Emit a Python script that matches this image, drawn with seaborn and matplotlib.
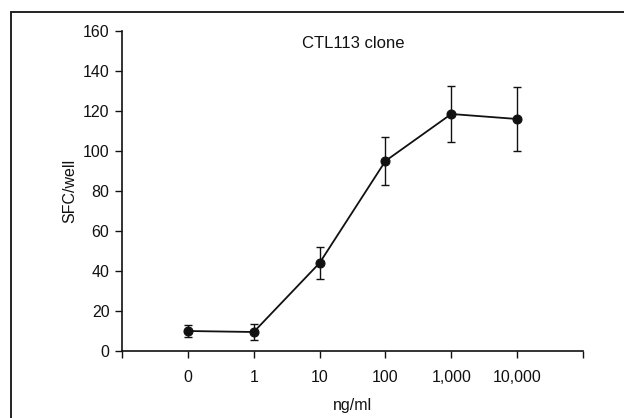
import matplotlib
matplotlib.use("Agg")
import matplotlib.pyplot as plt
from matplotlib.patches import Rectangle
import numpy as np
import pandas as pd
import seaborn as sns

# Dose-response of the CTL113 clone
doses = ["0", "1", "10", "100", "1,000", "10,000"]
sfc_mean = [10, 9.5, 44, 95, 118.5, 116]
sfc_err = [3, 4, 8, 12, 14, 16]
y_ticks = [0, 20, 40, 60, 80, 100, 120, 140, 160]

sns.set_theme(style="ticks")
plt.rcParams["font.family"] = ["Liberation Sans", "DejaVu Sans"]

df = pd.DataFrame({"pos": np.arange(len(doses)), "sfc": sfc_mean, "err": sfc_err})

fig = plt.figure(figsize=(6.24, 4.18), dpi=100)
ax = fig.add_axes([122 / 624, 1 - 351 / 418, (583 - 122) / 624, (351 - 31) / 418])

# outer frame around the panel
fig.patches.append(Rectangle((11 / 624, -0.2), 1.2, 1 - 12 / 418 + 0.2,
                             transform=fig.transFigure, fill=False,
                             edgecolor="#222222", linewidth=1.4, zorder=0))

ax.errorbar(df["pos"], df["sfc"], yerr=df["err"], fmt="none",
            ecolor="#111111", elinewidth=1.0, capsize=3, capthick=1.0, zorder=2)
sns.lineplot(data=df, x="pos", y="sfc", ax=ax, color="#111111", linewidth=1.3,
             marker="o", markersize=6.5, markeredgecolor="#111111",
             markerfacecolor="#111111", zorder=3)

ax.set_xlim(-1, 6)
ax.set_ylim(0, 160)
ax.set_yticks(y_ticks)
ax.set_yticklabels([str(v) for v in y_ticks])
ax.set_xticks([-1, 0, 1, 2, 3, 4, 5, 6])
ax.set_xticklabels([""] + doses + [""])

for s in ["top", "right"]:
    ax.spines[s].set_visible(False)
for s in ["left", "bottom"]:
    ax.spines[s].set_linewidth(1.2)
    ax.spines[s].set_color("#111111")

ax.tick_params(axis="both", direction="out", length=5, width=1.0,
               color="#111111", labelsize=11.5, labelcolor="#111111", pad=4)
ax.tick_params(axis="x", pad=9)

ax.set_xlabel("ng/ml", fontsize=11.5, color="#111111", labelpad=9)
ax.set_ylabel("SFC/well", fontsize=11.5, color="#111111", labelpad=4)
ax.text(0.502, 0.96, "CTL113 clone", transform=ax.transAxes, ha="center",
        va="center", fontsize=12, color="#111111")

fig.savefig("out.png", dpi=100)
